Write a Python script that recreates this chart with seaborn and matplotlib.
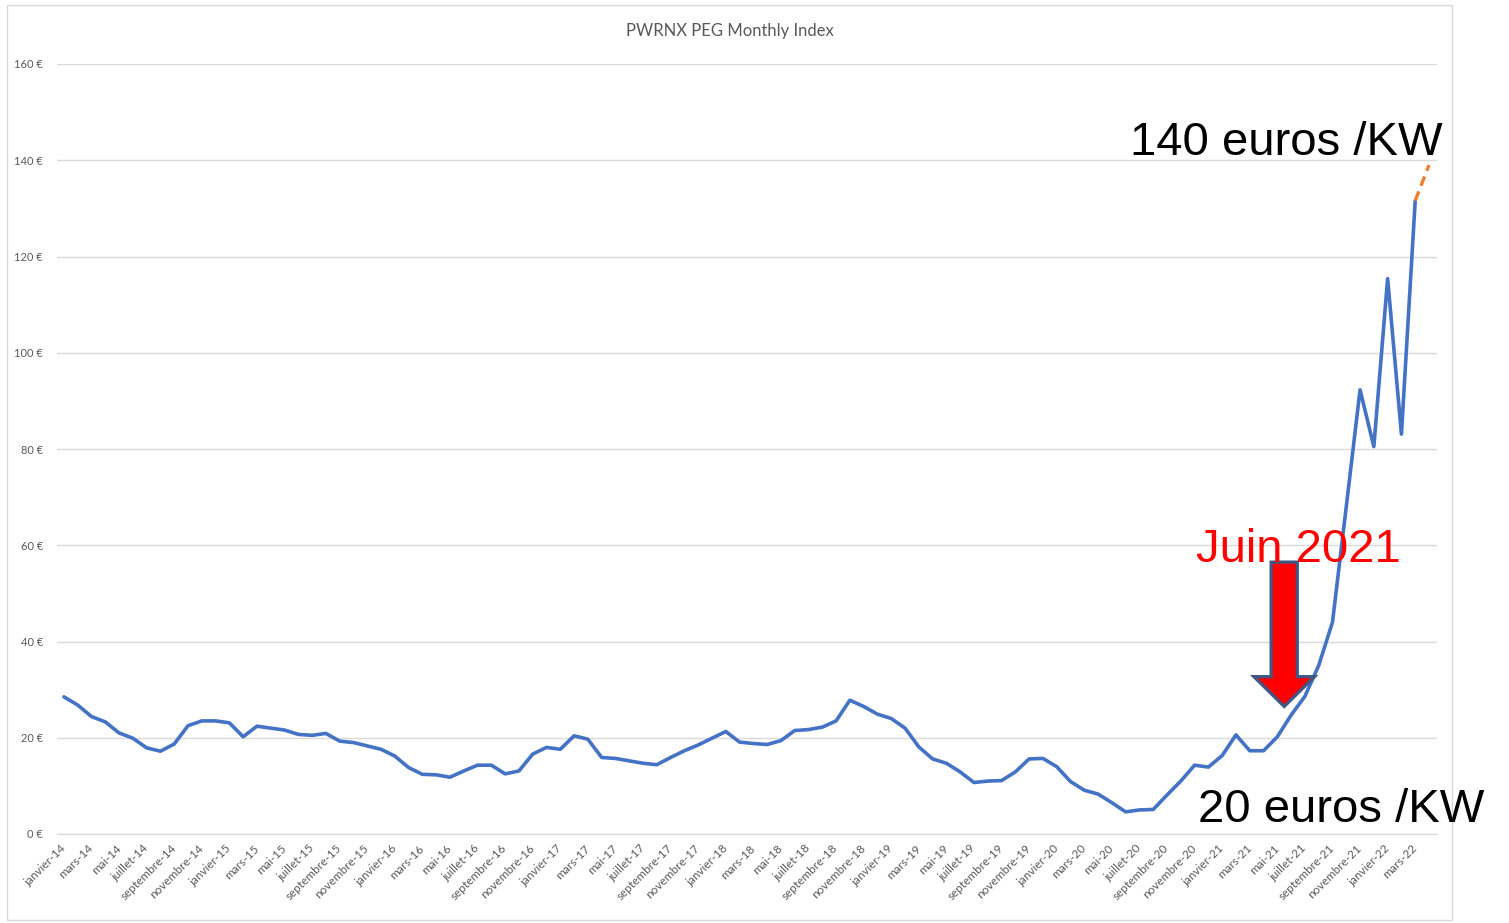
import numpy as np
import matplotlib
matplotlib.use("Agg")
import matplotlib.pyplot as plt
import seaborn as sns
from matplotlib.patches import Rectangle, FancyArrow

mois = ['janvier', 'février', 'mars', 'avril', 'mai', 'juin', 'juillet', 'août',
        'septembre', 'octobre', 'novembre', 'décembre']
months = [f"{m}-{y}" for y in range(14, 23) for m in mois][:100]

# PEG monthly index (€/MWh), janvier-14 .. mars-22
peg = [28.5, 26.8, 24.4, 23.3, 21.0, 19.9, 17.9, 17.2, 18.7, 22.5, 23.5, 23.5,
       23.1, 20.2, 22.4, 22.0, 21.6, 20.7, 20.5, 20.9, 19.3, 19.0, 18.3, 17.6,
       16.2, 13.8, 12.4, 12.3, 11.8, 13.1, 14.3, 14.3, 12.5, 13.1, 16.6, 18.0,
       17.6, 20.4, 19.7, 15.9, 15.7, 15.2, 14.7, 14.4, 15.9, 17.3, 18.5, 19.9,
       21.3, 19.1, 18.8, 18.6, 19.4, 21.5, 21.7, 22.2, 23.5, 27.8, 26.5, 24.9,
       24.0, 22.0, 18.1, 15.6, 14.7, 12.9, 10.7, 11.0, 11.1, 12.9, 15.6, 15.7,
       14.0, 10.9, 9.1, 8.3, 6.5, 4.6, 5.0, 5.1, 8.1, 11.0, 14.3, 13.9,
       16.3, 20.6, 17.3, 17.3, 20.2, 24.7, 28.6, 35.0, 44.0, 68.0, 92.3, 80.5,
       115.4, 83.1, 131.6]
# projection (dashed orange): mars-22 -> avril-22
proj_months = ['mars-22', 'avril-22']
proj_vals = [131.6, 139.0]

W, H = 1509, 923
fig = plt.figure(figsize=(W / 100, H / 100), dpi=100)
sns.set_style("white")
plt.rcParams['font.family'] = ['Lato', 'DejaVu Sans']

ax = fig.add_axes([57 / W, (H - 834) / H, (1437 - 57) / W, (834 - 64) / H])
idx = np.arange(len(peg))
pidx = [months.index(m) for m in proj_months]
sns.lineplot(x=idx, y=peg, ax=ax, color='#4472C4', lw=2.6)
sns.lineplot(x=pidx, y=proj_vals, ax=ax, color='#ED7D31', lw=2.4,
             linestyle=(0, (3, 1.8)))

ax.set_xlim(-0.42, len(months) - 0.42)
ax.set_ylim(0, 160)
ax.set_yticks(range(0, 161, 20))
ax.set_yticklabels([f"{v} €" for v in range(0, 161, 20)])
ax.yaxis.grid(True, color='#d9d9d9', lw=1)
ax.set_axisbelow(True)
for s in ['left', 'right', 'top']:
    ax.spines[s].set_visible(False)
ax.spines['bottom'].set_color('#d9d9d9')

ax.set_xticks(range(0, len(months), 2))
ax.set_xticklabels(months[::2], rotation=45, ha='right', va='center',
                   rotation_mode='anchor')
ax.set_xticks(np.arange(-0.5, len(months), 2), minor=True)
ax.tick_params(axis='x', which='major', length=0, pad=9, labelsize=8.5, labelcolor='#595959')
ax.tick_params(axis='x', which='minor', length=5, color='#d9d9d9')
ax.tick_params(axis='y', length=0, pad=10, labelsize=8, labelcolor='#595959')
ax.set_xlabel('')
ax.set_ylabel('')

fig.text(730 / W, 1 - 31 / H, 'PWRNX PEG Monthly Index', ha='center', va='center',
         fontsize=12, color='#595959')

# arrow at juin 2021
xa = months.index('juin-21') - 0.5
ax.add_patch(FancyArrow(xa, 56.5, 0, -30, width=1.9, head_width=4.4, head_length=6.2,
                        length_includes_head=True, fc='#ff0000', ec='#3f5883', lw=2.3,
                        zorder=5))

big = dict(fontsize=34, family='Liberation Sans')
fig.text(1443 / W, 1 - 155 / H, '140 euros /KW', ha='right', va='baseline', color='black', **big)
fig.text(1198 / W, 1 - 822 / H, '20 euros /KW', ha='left', va='baseline', color='black', **big)
fig.text(1196 / W, 1 - 562 / H, 'Juin 2021', ha='left', va='baseline', color='#ff0000',
         zorder=4, **big)

fig.patches.append(Rectangle((7 / W, 3 / H), (1452 - 7) / W, (918 - 3) / H,
                             transform=fig.transFigure, fill=False, ec='#d9d9d9', lw=1))

fig.savefig('out.png', dpi=100)
